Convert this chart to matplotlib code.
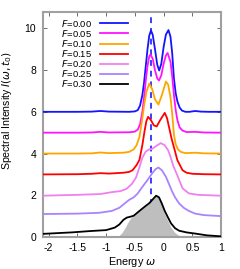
import numpy as np
import matplotlib
matplotlib.use("Agg")
from matplotlib import pyplot as plt

plt.rcParams['font.family'] = ['Liberation Sans', 'DejaVu Sans']
plt.rcParams['mathtext.fontset'] = 'dejavusans'
plt.rcParams['axes.unicode_minus'] = False

# curves (already offset by 1 per curve)
x_f000 = [-2.1, -1.5, -1.25, -1.1, -0.95, -0.6, -0.5, -0.45, -0.41, -0.37, -0.34, -0.31, -0.28, -0.25, -0.22,
          -0.19, -0.15, -0.11, -0.077, -0.04, 0.0, 0.04, 0.085, 0.12, 0.15, 0.18, 0.21, 0.24, 0.28, 0.32, 0.38,
          0.45, 0.55, 0.65, 0.8, 1.0]
y_f000 = [6.0, 6.0, 6.01, 6.04, 6.01, 6.0, 6.02, 6.08, 6.3, 6.8, 7.4, 8.2, 9.0, 9.65, 9.9,
          9.7, 9.0, 8.25, 7.98, 8.3, 9.1, 9.7, 9.92, 9.6, 8.8, 7.6, 6.9, 6.5, 6.2, 6.06, 6.0,
          6.0, 6.04, 6.01, 6.0, 6.0]

x_f005 = [-2.1, -1.5, -1.25, -1.1, -0.95, -0.6, -0.5, -0.45, -0.41, -0.37, -0.34, -0.31, -0.28, -0.25, -0.23,
          -0.19, -0.15, -0.11, -0.08, -0.04, 0.0, 0.04, 0.07, 0.12, 0.15, 0.18, 0.21, 0.24, 0.28, 0.33, 0.4,
          0.55, 0.7, 1.0]
y_f005 = [5.0, 5.0, 5.01, 5.04, 5.01, 5.02, 5.05, 5.15, 5.4, 6.0, 6.7, 7.5, 8.2, 8.65, 8.75,
          8.55, 8.0, 7.6, 7.5, 7.75, 8.3, 8.7, 8.82, 8.4, 7.7, 6.8, 6.1, 5.6, 5.25, 5.1, 5.03,
          5.04, 5.01, 5.0]

x_f010 = [-2.1, -1.5, -1.25, -1.1, -0.95, -0.7, -0.6, -0.52, -0.47, -0.42, -0.38, -0.34, -0.3, -0.25,
          -0.2, -0.15, -0.09, -0.03, 0.04, 0.08, 0.12, 0.15, 0.18, 0.21, 0.25, 0.3, 0.38, 0.55, 0.7, 1.0]
y_f010 = [4.0, 4.0, 4.01, 4.05, 4.02, 4.04, 4.08, 4.2, 4.4, 4.8, 5.5, 6.3, 6.95, 7.35,
          7.1, 6.6, 6.35, 6.8, 7.45, 7.3, 6.7, 5.9, 4.9, 4.45, 4.2, 4.08, 4.02, 4.04, 4.01, 4.0]

x_f015 = [-2.1, -1.5, -1.25, -1.1, -0.95, -0.7, -0.6, -0.54, -0.47, -0.42, -0.37, -0.33, -0.3, -0.27,
          -0.22, -0.17, -0.12, -0.06, 0.02, 0.06, 0.1, 0.14, 0.18, 0.24, 0.33, 0.4, 0.5, 0.7, 1.0]
y_f015 = [3.0, 3.01, 3.03, 3.06, 3.04, 3.08, 3.12, 3.2, 3.45, 3.7, 4.4, 5.1, 5.55, 5.76,
          5.6, 5.35, 5.3, 5.6, 5.95, 5.7, 5.2, 4.7, 4.3, 3.68, 3.2, 3.08, 3.03, 3.01, 3.0]

x_f020 = [-2.1, -1.5, -1.1, -0.9, -0.75, -0.65, -0.55, -0.48, -0.42, -0.37, -0.31, -0.25, -0.2, -0.12,
          -0.05, 0.02, 0.08, 0.12, 0.17, 0.24, 0.33, 0.44, 0.6, 1.0]
y_f020 = [1.98, 2.02, 2.06, 2.15, 2.2, 2.3, 2.55, 2.85, 3.35, 3.8, 4.1, 4.2, 4.22, 4.38,
          4.5, 4.4, 4.15, 3.85, 3.4, 2.95, 2.33, 2.09, 2.02, 1.98]

x_f025 = [-2.1, -1.5, -1.12, -0.9, -0.77, -0.6, -0.52, -0.45, -0.37, -0.28, -0.2, -0.14, -0.09,
          -0.03, 0.04, 0.1, 0.15, 0.2, 0.27, 0.35, 0.44, 0.55, 0.7, 1.0]
y_f025 = [1.1, 1.12, 1.16, 1.25, 1.4, 1.78, 1.9, 2.09, 2.4, 2.73, 3.05, 3.25, 3.33,
          3.2, 2.89, 2.5, 2.17, 1.9, 1.61, 1.4, 1.25, 1.12, 1.05, 1.0]

x_f030 = [-2.1, -1.6, -1.3, -1.0, -0.85, -0.77, -0.7, -0.64, -0.58, -0.52, -0.42, -0.33, -0.25, -0.19,
          -0.13, -0.08, -0.03, 0.02, 0.07, 0.13, 0.2, 0.27, 0.4, 0.56, 0.75, 1.0]
y_f030 = [0.15, 0.22, 0.28, 0.33, 0.45, 0.6, 0.82, 0.93, 0.97, 1.02, 1.25, 1.45, 1.62, 1.8,
          1.98, 1.9, 1.6, 1.25, 0.97, 0.65, 0.42, 0.3, 0.22, 0.16, 0.08, 0.03]

# gray shaded spectrum under the F=0.30 curve
x_fill = [-0.8, -0.72, -0.66, -0.6, -0.56, -0.52, -0.42, -0.33, -0.25, -0.19, -0.13, -0.08, -0.03,
          0.02, 0.07, 0.13, 0.2, 0.28, 0.33]
y_fill = [0.0, 0.22, 0.5, 0.8, 0.95, 1.02, 1.25, 1.45, 1.62, 1.8, 1.98, 1.85, 1.5,
          1.1, 0.8, 0.45, 0.2, 0.05, 0.0]

omega0 = -0.22

labels = ['0.00', '0.05', '0.10', '0.15', '0.20', '0.25', '0.30']
colors = ['#1414ff', '#ff14ff', '#ffa500', '#ff0000', '#f080f0', '#a884ff', '#000000']
xs = [x_f000, x_f005, x_f010, x_f015, x_f020, x_f025, x_f030]
ys = [y_f000, y_f005, y_f010, y_f015, y_f020, y_f025, y_f030]

fig = plt.figure(figsize=(2.4, 2.69), dpi=100)
ax = fig.add_axes([0.179, 0.119, 0.742, 0.836])

ax.axvline(omega0, color='#3c3cff', lw=1.4, ls=(0, (3, 2.5)), zorder=1)
ax.fill_between(x_fill, y_fill, 0, color='#bebebe', lw=0, zorder=2)
for x, y, c, l in zip(xs, ys, colors, labels):
    ax.plot(x, y, color=c, lw=1.3, label='$F$=' + l, zorder=3)

ax.set_xlim(-2.1, 1.0)
ax.set_ylim(0, 10.78)
ax.set_xticks([-2, -1.5, -1, -0.5, 0, 0.5, 1])
ax.set_xticklabels(['-2', '-1.5', '-1', '-0.5', '0', '0.5', '1'])
ax.set_yticks([0, 2, 4, 6, 8, 10])
ax.tick_params(direction='in', top=True, right=True, labelsize=7.5, length=3, width=0.6,
               color='#555555')
ax.tick_params(axis='x', pad=4.5)
ax.tick_params(axis='y', pad=5)
for s in ax.spines.values():
    s.set_color('#a0a0a0')
    s.set_linewidth(1.5)

ax.set_xlabel(r'Energy $\omega$', fontsize=7.8)
ax.xaxis.set_label_coords(0.5, -0.078)
ax.set_ylabel(r'Spectral Intensity $I(\omega,t_0)$', fontsize=7.6)
ax.yaxis.label.set_verticalalignment('center')
ax.yaxis.set_label_coords(-0.2, 0.564)

ax.legend(loc='upper left', bbox_to_anchor=(0.1, 0.975), markerfirst=False, frameon=False,
          fontsize=6.8, handlelength=2.9, labelspacing=-0.1, borderaxespad=0, borderpad=0,
          handletextpad=0.9)

fig.savefig('out.png', dpi=100)
